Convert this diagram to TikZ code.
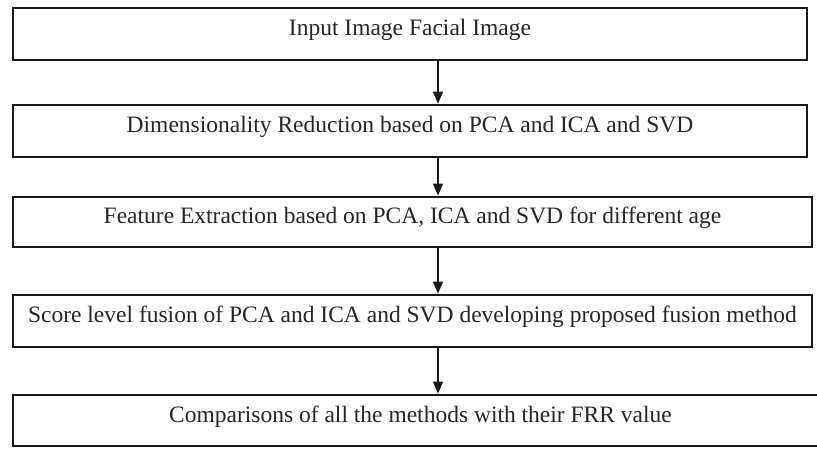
\documentclass[tikz,border=0pt]{standalone}
\usepackage{fontspec}
\setmainfont{Liberation Serif}
\usetikzlibrary{arrows.meta}
\begin{document}
\begin{tikzpicture}[x=1pt,y=1pt,
  box/.style={draw=black!90, line width=2.8pt, inner sep=0pt, text height=9pt, text depth=5pt,
    font=\fontsize{23.5}{27}\selectfont, text=black!85},
  arr/.style={draw=black!90, line width=1.4pt, -{Triangle[length=12pt,width=10pt]}}]
\useasboundingbox (0,0) rectangle (817,-449);
\clip (0,0) rectangle (817,-449);
\node[box, minimum width=794, minimum height=52] (b1) at (410,-34) {Input Image Facial Image};
\node[box, minimum width=794, minimum height=52] (b2) at (410,-131) {Dimensionality Reduction based on PCA and ICA and SVD};
\node[box, minimum width=799, minimum height=50] (b3) at (412.5,-222) {Feature Extraction based on PCA, ICA and SVD for different age};
\node[box, minimum width=799, minimum height=52] (b4) at (412.5,-321) {Score level fusion of PCA and ICA and SVD developing proposed fusion method};
\node[box, minimum width=815, minimum height=51] (b5) at (420.5,-420.5) {Comparisons of all the methods with their FRR value};
\coordinate (ax) at (438,0);
\draw[arr] (b1.south -| ax) -- (b2.north -| ax);
\draw[arr] (b2.south -| ax) -- (b3.north -| ax);
\draw[arr] (b3.south -| ax) -- (b4.north -| ax);
\draw[arr] (b4.south -| ax) -- (b5.north -| ax);
\end{tikzpicture}
\end{document}
